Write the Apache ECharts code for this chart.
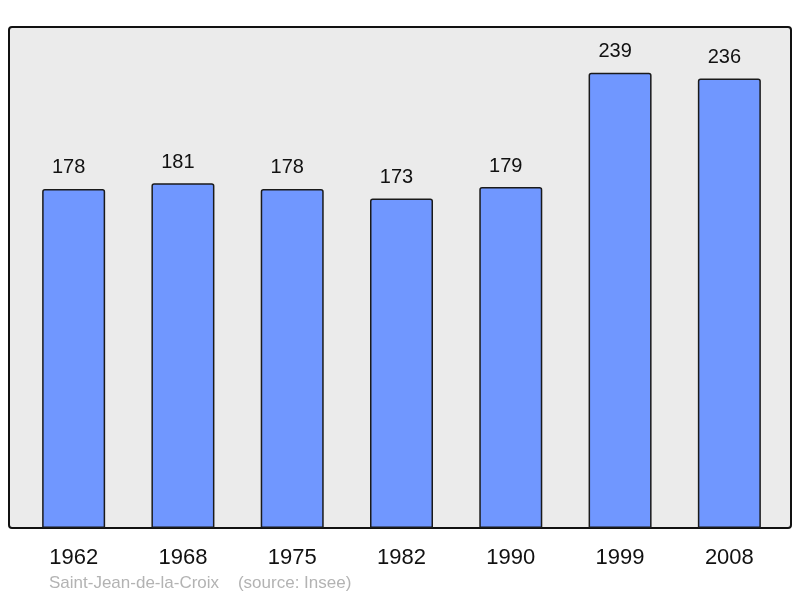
<!DOCTYPE html>
<html>
<head>
<meta charset="utf-8">
<script src="https://cdn.jsdelivr.net/npm/echarts@6/dist/echarts.min.js"></script>
<style>
  html, body { margin: 0; padding: 0; background: #fff; }
  #chart { width: 800px; height: 598px; }
</style>
</head>
<body>
<div id="chart"></div>
<script>
// données
const years = ["1962", "1968", "1975", "1982", "1990", "1999", "2008"]
const population = [178, 181, 178, 173, 179, 239, 236]
const footer = "Saint-Jean-de-la-Croix    (source: Insee)"

const myChart = echarts.init(document.getElementById("chart"))

const option = {
  animation: false,
  textStyle: { fontFamily: "Liberation Sans, Arial, sans-serif" },
  // cadre gris derrière les barres
  graphic: [
    {
      type: "rect",
      z: -10,
      silent: true,
      shape: { x: 9, y: 27, width: 782, height: 501, r: 3 },
      style: { fill: "#ebebeb", stroke: "#111", lineWidth: 2 },
    },
    {
      type: "text",
      left: 49,
      top: 575,
      style: {
        text: footer,
        fill: "#b3b3b3",
        fontSize: 17,
        fontFamily: "Liberation Sans, Arial, sans-serif",
      },
    },
  ],
  grid: { left: 19, right: 16, top: 27, bottom: 70 },
  xAxis: {
    type: "category",
    data: years,
    axisLine: { show: false },
    axisTick: { show: false },
    axisLabel: { color: "#111", fontSize: 22, margin: 19 },
  },
  yAxis: {
    type: "value",
    min: 0,
    max: 263,
    show: false,
    splitLine: { show: false },
  },
  series: [
    {
      type: "bar",
      data: population,
      barWidth: 63,
      itemStyle: {
        color: "#7097ff",
        borderColor: "#1a1a1a",
        borderWidth: 1.5,
        borderRadius: [2, 2, 0, 0],
      },
      label: {
        show: true,
        position: "top",
        distance: 11,
        offset: [-5, 0],
        color: "#111",
        fontSize: 20,
      },
    },
  ],
}

myChart.setOption(option)
</script>
</body>
</html>
